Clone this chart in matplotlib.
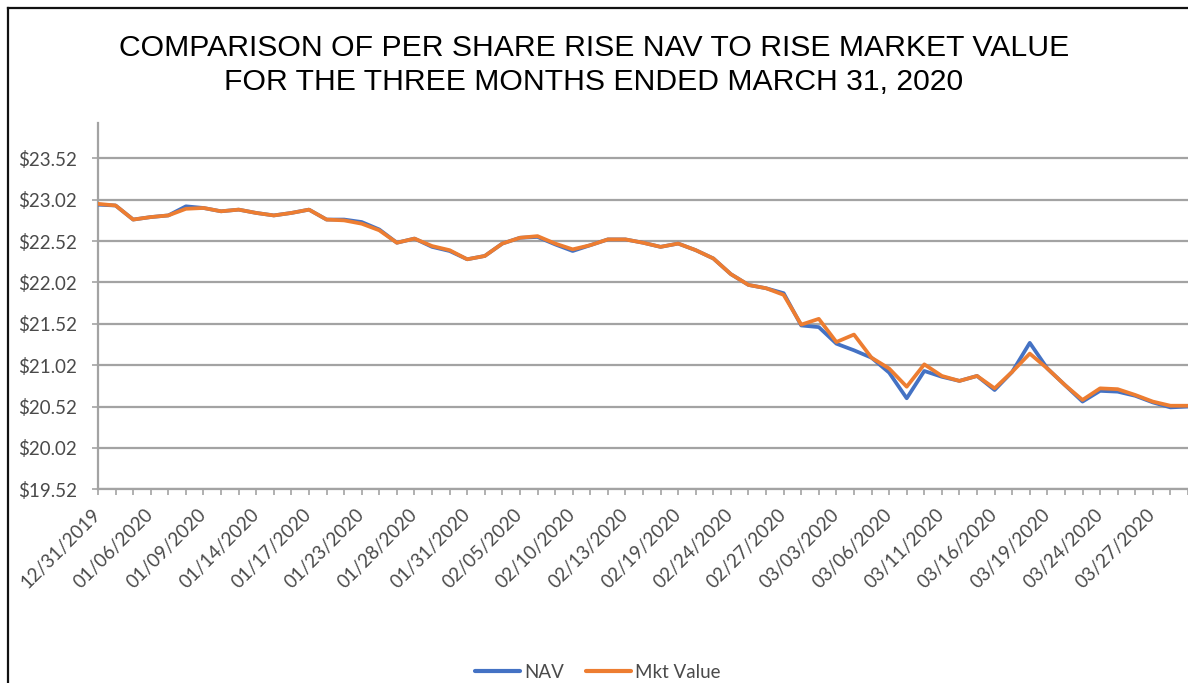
import matplotlib
matplotlib.use("Agg")
import matplotlib.pyplot as plt
from matplotlib.lines import Line2D

# ---------------- data ----------------
dates = ["12/31/2019", "01/02/2020", "01/03/2020", "01/06/2020", "01/07/2020", "01/08/2020",
         "01/09/2020", "01/10/2020", "01/13/2020", "01/14/2020", "01/15/2020", "01/16/2020",
         "01/17/2020", "01/21/2020", "01/22/2020", "01/23/2020", "01/24/2020", "01/27/2020",
         "01/28/2020", "01/29/2020", "01/30/2020", "01/31/2020", "02/03/2020", "02/04/2020",
         "02/05/2020", "02/06/2020", "02/07/2020", "02/10/2020", "02/11/2020", "02/12/2020",
         "02/13/2020", "02/14/2020", "02/18/2020", "02/19/2020", "02/20/2020", "02/21/2020",
         "02/24/2020", "02/25/2020", "02/26/2020", "02/27/2020", "02/28/2020", "03/02/2020",
         "03/03/2020", "03/04/2020", "03/05/2020", "03/06/2020", "03/09/2020", "03/10/2020",
         "03/11/2020", "03/12/2020", "03/13/2020", "03/16/2020", "03/17/2020", "03/18/2020",
         "03/19/2020", "03/20/2020", "03/23/2020", "03/24/2020", "03/25/2020", "03/26/2020",
         "03/27/2020", "03/30/2020", "03/31/2020"]

nav = [22.96, 22.95, 22.78, 22.81, 22.83, 22.94, 22.92, 22.88, 22.90, 22.86,
       22.83, 22.86, 22.90, 22.78, 22.78, 22.75, 22.66, 22.50, 22.55, 22.45,
       22.40, 22.30, 22.34, 22.49, 22.56, 22.57, 22.48, 22.40, 22.47, 22.54,
       22.54, 22.50, 22.45, 22.49, 22.41, 22.31, 22.12, 21.99, 21.95, 21.89,
       21.50, 21.48, 21.28, 21.20, 21.11, 20.93, 20.62, 20.95, 20.88, 20.83,
       20.89, 20.72, 20.94, 21.29, 20.98, 20.78, 20.58, 20.71, 20.70, 20.65,
       20.57, 20.51, 20.52]

mkt_value = [22.97, 22.95, 22.78, 22.81, 22.83, 22.91, 22.92, 22.88, 22.90, 22.86,
             22.83, 22.86, 22.90, 22.78, 22.77, 22.73, 22.65, 22.50, 22.55, 22.46,
             22.41, 22.30, 22.34, 22.49, 22.56, 22.58, 22.49, 22.42, 22.47, 22.54,
             22.54, 22.50, 22.45, 22.49, 22.41, 22.31, 22.12, 21.99, 21.95, 21.87,
             21.51, 21.58, 21.30, 21.39, 21.11, 20.98, 20.76, 21.03, 20.89, 20.83,
             20.89, 20.74, 20.94, 21.16, 20.98, 20.78, 20.60, 20.74, 20.73, 20.66,
             20.58, 20.53, 20.53]

y_ticks = [19.52, 20.02, 20.52, 21.02, 21.52, 22.02, 22.52, 23.02, 23.52]
label_step = 3

title_lines = ["COMPARISON OF PER SHARE RISE NAV TO RISE MARKET VALUE",
               "FOR THE THREE MONTHS ENDED MARCH 31, 2020"]
series_names = ["NAV", "Mkt Value"]

# ---------------- figure ----------------
W, H = 1188, 683
fig = plt.figure(figsize=(W / 100, H / 100), dpi=100)
fig.patch.set_facecolor("white")

left_px, right_px, top_px, bottom_px = 98, 1188, 123, 489.3
ax = fig.add_axes([left_px / W, 1 - bottom_px / H,
                   (right_px - left_px) / W, (bottom_px - top_px) / H])

x = list(range(len(dates)))
tick_font = "Lato"
grey = "#a3a3a3"
text_grey = "#4a4a4a"

ax.plot(x, nav, color="#4472C4", lw=2.7, solid_joinstyle="round",
        solid_capstyle="round", label=series_names[0], zorder=3)
ax.plot(x, mkt_value, color="#ED7D31", lw=2.7, solid_joinstyle="round",
        solid_capstyle="round", label=series_names[1], zorder=4)

ax.set_xlim(0, 61.69)
ax.set_ylim(19.52, 23.947)

ax.set_yticks(y_ticks)
ax.set_yticklabels([f"${v:.2f}" for v in y_ticks], fontsize=13.5,
                   family=tick_font, color=text_grey)
ax.yaxis.grid(True, color=grey, lw=1.6)
ax.set_axisbelow(True)

ax.set_xticks(x)
ax.set_xticklabels([d if i % label_step == 0 else "" for i, d in enumerate(dates)],
                   rotation=45, ha="right", va="center", rotation_mode="anchor",
                   fontsize=13.5, family=tick_font, color=text_grey)

ax.tick_params(axis="y", length=4.5, width=1.2, color=grey, pad=10.5)
ax.tick_params(axis="x", length=4, width=1.2, color=grey, pad=12)

for s in ["top", "right"]:
    ax.spines[s].set_visible(False)
for s in ["left", "bottom"]:
    ax.spines[s].set_color(grey)
    ax.spines[s].set_linewidth(1.6)

# title
fig.text(0.5, 1 - 56 / H, title_lines[0], ha="center", va="baseline",
         fontsize=21.7, family="Liberation Sans", color="#000000")
fig.text(0.5, 1 - 90 / H, title_lines[1], ha="center", va="baseline",
         fontsize=21.7, family="Liberation Sans", color="#000000")

# legend
leg = fig.legend(loc="center", bbox_to_anchor=(598 / W, 1 - 672 / H), ncol=2,
                 frameon=False, prop={"family": tick_font, "size": 13.5},
                 handlelength=2.4, handletextpad=0.2, columnspacing=1.2,
                 labelcolor=text_grey)
for h in leg.get_lines():
    h.set_linewidth(3.0)

# outer border (left and top edges visible)
fig.add_artist(Line2D([7.5 / W, 7.5 / W], [0, 1 - 7.5 / H], transform=fig.transFigure,
                      color="#111111", lw=1.6))
fig.add_artist(Line2D([7.5 / W, 1], [1 - 7.5 / H, 1 - 7.5 / H], transform=fig.transFigure,
                      color="#111111", lw=1.6))

fig.savefig("out.png", dpi=100)
